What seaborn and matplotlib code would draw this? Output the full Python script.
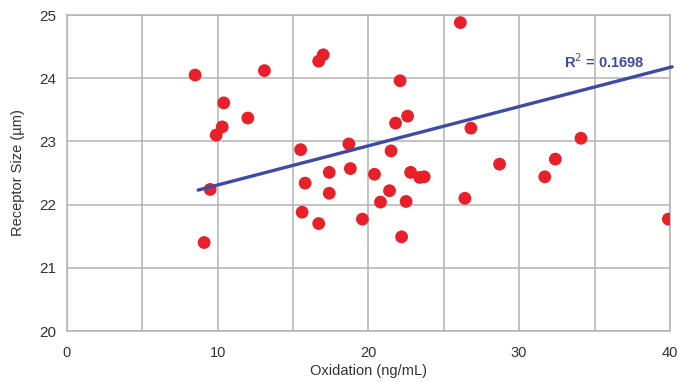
import numpy as np
import pandas as pd
import matplotlib
matplotlib.use("Agg")
import matplotlib.pyplot as plt
import seaborn as sns

# values
oxidation = [8.5, 10.4, 10.3, 9.9, 12.0, 13.1, 16.7, 17.0, 15.5, 9.5,
             15.8, 17.4, 17.4, 9.1, 15.6, 16.7, 26.1, 22.1, 22.6, 21.8,
             26.8, 34.1, 18.7, 21.5, 18.8, 20.4, 22.8, 23.4, 23.7, 28.7,
             32.4, 31.7, 21.4, 20.8, 22.5, 26.4, 19.6, 22.2, 39.9]
receptor = [24.05, 23.61, 23.23, 23.10, 23.37, 24.12, 24.27, 24.37, 22.87, 22.24,
            22.34, 22.51, 22.18, 21.40, 21.88, 21.70, 24.88, 23.96, 23.40, 23.29,
            23.21, 23.05, 22.96, 22.85, 22.57, 22.48, 22.51, 22.43, 22.44, 22.64,
            22.72, 22.44, 22.22, 22.04, 22.05, 22.10, 21.77, 21.49, 21.77]
# trend line as drawn in the source chart (endpoints)
trend_x = [8.7, 40.15]
trend_y = [22.23, 24.18]
r2_label = "R$^2$ = 0.1698"

df = pd.DataFrame({"Oxidation": oxidation, "Receptor": receptor})
trend = pd.DataFrame({"Oxidation": trend_x, "Receptor": trend_y})

sns.set_style("white")
plt.rcParams["font.family"] = ["Liberation Sans", "DejaVu Sans"]

fig = plt.figure(figsize=(6.78, 3.82), dpi=100)
ax = fig.add_axes([0.0988, 0.1335, 0.8892, 0.8272])

grid_col = "#b3b3b3"
text_col = "#333333"
sns.scatterplot(data=df, x="Oxidation", y="Receptor", ax=ax, s=85,
                color="#e8202a", edgecolor="none", zorder=3)
sns.lineplot(data=trend, x="Oxidation", y="Receptor", ax=ax,
             color="#3d4aa6", lw=2.4, zorder=4, clip_on=False)

ax.set_xlim(0, 40)
ax.set_ylim(20, 25)
ax.set_xticks(np.arange(0, 41, 5))
ax.set_xticklabels([str(v) if v % 10 == 0 else "" for v in range(0, 41, 5)])
ax.set_yticks(np.arange(20, 26, 1))
ax.grid(True, color=grid_col, lw=1.1)
for s in ax.spines.values():
    s.set_color(grid_col)
    s.set_linewidth(1.1)
ax.tick_params(axis="both", length=5, width=1.1, color=grid_col,
               labelsize=10.5, labelcolor=text_col)
ax.tick_params(axis="x", pad=6)
ax.tick_params(axis="y", pad=3, labelsize=11)
ax.set_xlabel("Oxidation (ng/mL)", fontsize=10.5, color=text_col, labelpad=3)
ax.set_ylabel("Receptor Size (µm)", fontsize=10.5, color=text_col, labelpad=10)

ax.text(33.0, 24.26, r2_label, color="#3d4aa6", fontsize=10.5, fontweight="bold",
        ha="left", va="center")

fig.savefig("out.png", dpi=100)
